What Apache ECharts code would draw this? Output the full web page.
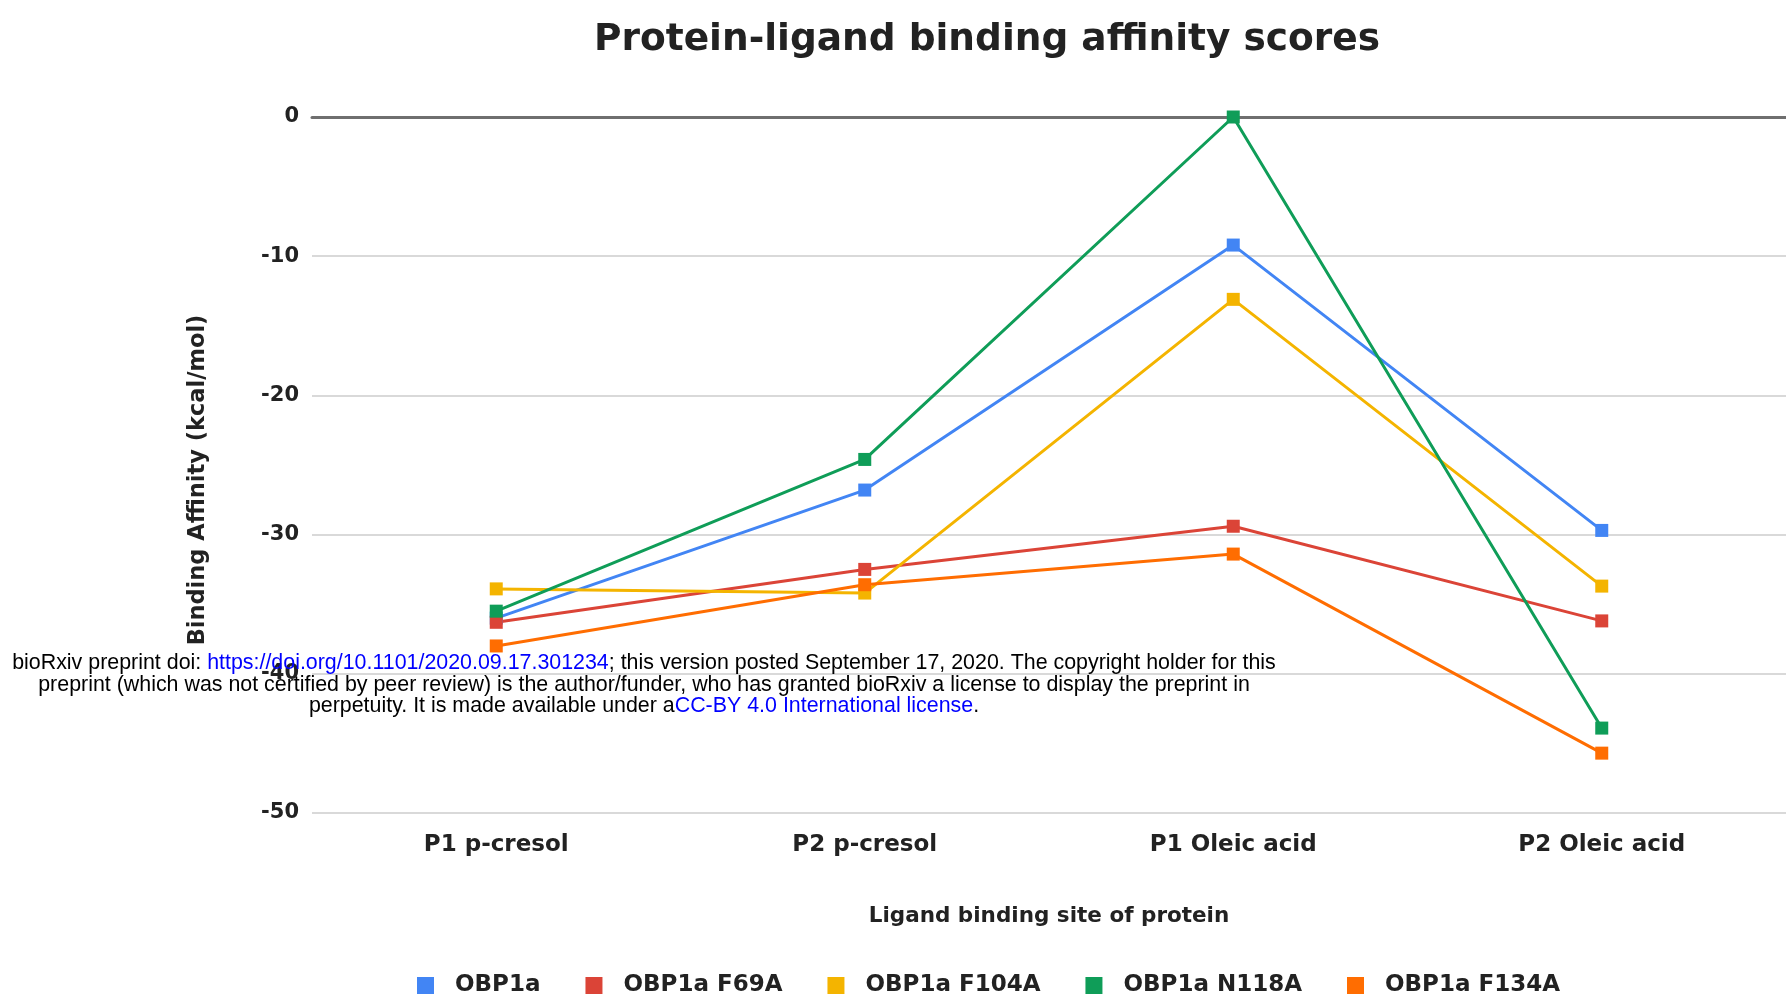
<!DOCTYPE html>
<html>
<head>
<meta charset="utf-8">
<script src="https://cdn.jsdelivr.net/npm/echarts@6/dist/echarts.min.js"></script>
<style>
  html, body { margin: 0; padding: 0; background: #fff; }
  #chart { width: 1786px; height: 1002px; }
</style>
</head>
<body>
<div id="chart"></div>
<script>
// ligand binding sites (x axis)
var sites = ["P1 p-cresol", "P2 p-cresol", "P1 Oleic acid", "P2 Oleic acid"];

// binding affinity (kcal/mol) per protein variant
var obp1a = [-36.0, -26.8, -9.2, -29.7];
var f69a = [-36.3, -32.5, -29.4, -36.2];
var f104a = [-33.9, -34.2, -13.1, -33.7];
var n118a = [-35.5, -24.6, 0, -43.9];
var f134a = [-38.0, -33.6, -31.4, -45.7];

var seriesNames = ["OBP1a", "OBP1a F69A", "OBP1a F104A", "OBP1a N118A", "OBP1a F134A"];
var seriesData = [obp1a, f69a, f104a, n118a, f134a];
var colors = ["#4285f4", "#db4437", "#f4b400", "#0f9d58", "#ff6d01"];

var font = "DejaVu Sans";
var noteFont = "21.4px Liberation Sans";

var chart = echarts.init(document.getElementById("chart"));

var series = seriesNames.map(function (name, i) {
  return {
    name: name,
    type: "line",
    data: seriesData[i],
    symbol: "rect",
    symbolSize: 13,
    color: colors[i],
    lineStyle: { width: 3, color: colors[i] },
    itemStyle: { color: colors[i] },
    animation: false,
    z: 3
  };
});

// preprint notice lines, each centred on its own
var noteLines = [
  "bioRxiv preprint doi: {u|https://doi.org/10.1101/2020.09.17.301234}; this version posted September 17, 2020. The copyright holder for this",
  "preprint (which was not certified by peer review) is the author/funder, who has granted bioRxiv a license to display the preprint in",
  "perpetuity. It is made available under a{u|CC-BY 4.0 International license}."
];
var noteY = [663, 685, 706];

var graphics = noteLines.map(function (line, i) {
  return {
    type: "text",
    x: 644,
    y: noteY[i],
    z: 100,
    style: {
      text: line,
      font: noteFont,
      fill: "#000",
      align: "center",
      verticalAlign: "middle",
      rich: { u: { fill: "#0000ff", font: noteFont } }
    }
  };
});

chart.setOption({
  backgroundColor: "#fff",
  title: {
    text: "Protein-ligand binding affinity scores",
    left: 982,
    top: 16,
    textAlign: "center",
    textStyle: { fontFamily: font, fontWeight: "bold", fontSize: 37.5, color: "#222" }
  },
  legend: {
    data: seriesNames,
    bottom: 0,
    left: 412,
    icon: "rect",
    itemWidth: 17,
    itemHeight: 17,
    itemGap: 45,
    textStyle: { fontFamily: font, fontWeight: "bold", fontSize: 23, color: "#222", padding: [0, 0, 0, 16] }
  },
  grid: {
    left: 312,
    right: -6,
    top: 117,
    bottom: 189
  },
  xAxis: [{
    type: "category",
    data: sites,
    boundaryGap: true,
    axisLine: { show: false },
    axisTick: { show: false },
    axisLabel: { fontFamily: font, fontWeight: "bold", fontSize: 23, color: "#222", margin: 21 },
    name: "Ligand binding site of protein",
    nameLocation: "middle",
    nameGap: 92,
    nameTextStyle: { fontFamily: font, fontWeight: "bold", fontSize: 21.5, color: "#222" }
  }, {
    // dark zero baseline along the top
    type: "category",
    data: sites,
    position: "top",
    axisLine: { show: true, lineStyle: { color: "#6f6f6f", width: 3 } },
    axisTick: { show: false },
    axisLabel: { show: false }
  }],
  yAxis: {
    type: "value",
    min: -50,
    max: 0,
    interval: 10,
    axisLine: { show: false },
    axisTick: { show: false },
    splitLine: { lineStyle: { color: "#d9d9d9", width: 2 } },
    axisLabel: { fontFamily: font, fontWeight: "bold", fontSize: 21, color: "#222", margin: 13 },
    name: "Binding Affinity (kcal/mol)",
    nameLocation: "middle",
    nameGap: 102,
    nameTextStyle: { fontFamily: font, fontWeight: "bold", fontSize: 22.5, color: "#222", padding: [0, 30, 0, 0] }
  },
  graphic: graphics,
  series: series
});
</script>
</body>
</html>
